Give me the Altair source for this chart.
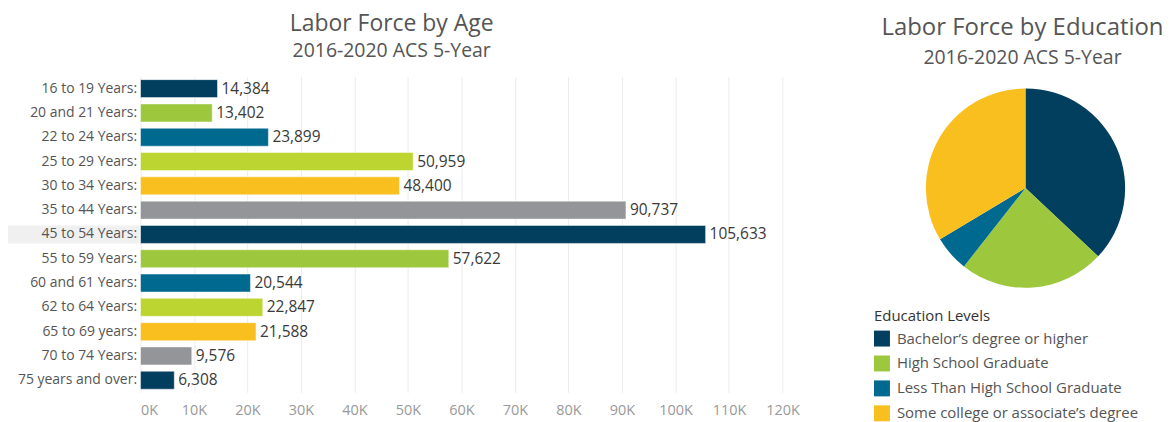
import altair as alt
import pandas as pd

FONT = "Open Sans"

ages = [
    "16 to 19 Years:", "20 and 21 Years:", "22 to 24 Years:", "25 to 29 Years:",
    "30 to 34 Years:", "35 to 44 Years:", "45 to 54 Years:", "55 to 59 Years:",
    "60 and 61 Years:", "62 to 64 Years:", "65 to 69 years:", "70 to 74 Years:",
    "75 years and over:",
]
age_values = [14384, 13402, 23899, 50959, 48400, 90737, 105633, 57622,
              20544, 22847, 21588, 9576, 6308]
age_palette = ["#023f5e", "#9dc83d", "#00698f", "#bcd531", "#f9bf1f", "#939598",
               "#023f5e", "#9dc83d", "#00698f", "#bcd531", "#f9bf1f", "#939598",
               "#023f5e"]
highlighted_age = "45 to 54 Years:"
x_ticks = [0, 10000, 20000, 30000, 40000, 50000, 60000, 70000, 80000,
           90000, 100000, 110000, 120000]

edu_levels = [
    "Bachelor\u2019s degree or higher",
    "High School Graduate",
    "Less Than High School Graduate",
    "Some college or associate\u2019s degree",
]
edu_share = [37.0, 23.6, 5.8, 33.6]
edu_palette = ["#023f5e", "#9dc83d", "#00698f", "#f9bf1f"]

age_title = "Labor Force by Age"
edu_title = "Labor Force by Education"
subtitle = "2016-2020 ACS 5-Year"

age_df = pd.DataFrame({"age": ages, "value": age_values})
edu_df = pd.DataFrame({"level": edu_levels, "share": edu_share,
                       "ord": list(range(len(edu_levels)))})
one_row = pd.DataFrame({"a": [0]})

y_enc = alt.Y(
    "age:N", sort=ages, title=None,
    scale=alt.Scale(paddingInner=0.26, paddingOuter=0.13),
    axis=alt.Axis(labelFontSize=14, labelColor="#555555", domain=False,
                  ticks=False, labelPadding=4, minExtent=133, maxExtent=133,
                  labelFont=FONT),
)

base = alt.Chart(age_df).encode(y=y_enc)

highlight = base.mark_rect(color="#f0f0f0").encode(
    x=alt.value(-133), x2=alt.value(-1)
).transform_filter(alt.datum.age == highlighted_age)

bars = base.mark_bar(stroke="white", strokeWidth=0.8, strokeOpacity=0.6).encode(
    x=alt.X(
        "value:Q", title=None,
        scale=alt.Scale(domain=[0, 125000], nice=False),
        axis=alt.Axis(values=x_ticks, labelExpr="(datum.value/1000) + 'K'",
                      grid=True, gridColor="#ececec", domain=False, ticks=False,
                      labelFontSize=14.5, labelColor="#999999", labelPadding=11,
                      labelFont=FONT),
    ),
    color=alt.Color("age:N", scale=alt.Scale(domain=ages, range=age_palette),
                    legend=None),
)

labels = base.mark_text(align="left", dx=4, fontSize=15.5, color="#3a3a3a",
                        font=FONT).encode(
    x="value:Q",
    text=alt.Text("value:Q", format=","),
)

top_anchor = alt.Chart(one_row).mark_rule(opacity=0).encode(
    x=alt.value(0), x2=alt.value(1), y=alt.value(-68)
)


def title_texts(title, x, y_title, y_sub, title_size):
    t = alt.Chart(one_row).mark_text(
        text=title, font=FONT, fontSize=title_size, color="#555555",
        align="center", baseline="middle",
    ).encode(x=alt.value(x), y=alt.value(y_title))
    s = alt.Chart(one_row).mark_text(
        text=subtitle, font=FONT, fontSize=19.5, color="#555555",
        align="center", baseline="middle",
    ).encode(x=alt.value(x), y=alt.value(y_sub))
    return [t, s]


bar_chart = alt.layer(
    top_anchor, highlight, bars, labels,
    *title_texts(age_title, 252, -53, -26, 23),
).properties(width=671, height=317)

pie_arcs = alt.Chart(edu_df).mark_arc(outerRadius=100).encode(
    theta=alt.Theta("share:Q", stack=True),
    order=alt.Order("ord:Q"),
    x=alt.value(100),
    y=alt.value(112),
    color=alt.Color(
        "level:N", scale=alt.Scale(domain=edu_levels, range=edu_palette),
        legend=alt.Legend(
            title="Education Levels", orient="none", legendX=-52, legendY=233,
            symbolType="square", symbolSize=256, symbolStrokeWidth=0,
            labelFontSize=15, labelColor="#555555", labelFont=FONT,
            titleFontSize=15, titleFontWeight="normal", titleColor="#333333",
            titleFont=FONT, titlePadding=7, rowPadding=9, labelOffset=7,
            labelLimit=400,
        ),
    ),
)

pie = alt.layer(
    top_anchor, pie_arcs,
    *title_texts(edu_title, 97, -49, -19, 24),
).properties(width=200, height=224)

chart = alt.hconcat(bar_chart, pie, spacing=65).resolve_scale(
    color="independent"
).properties(
    padding={"left": 0, "top": 0, "right": 0, "bottom": 0}
).configure_view(stroke=None)

chart.save("out.html", embed_options={"renderer": "svg", "actions": False})
